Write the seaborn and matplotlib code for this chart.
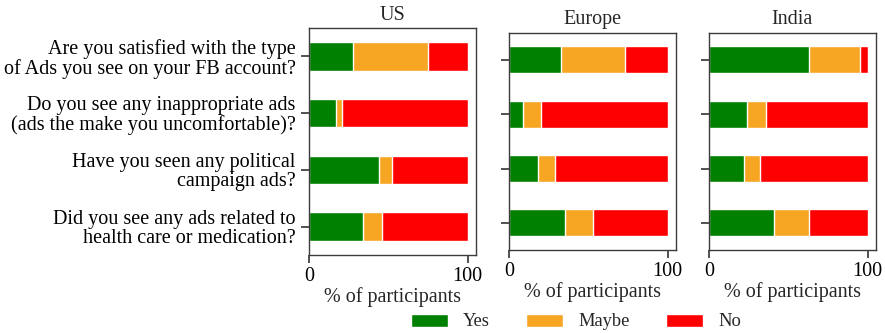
import matplotlib
matplotlib.use("Agg")
import matplotlib.pyplot as plt
import pandas as pd
import seaborn as sns

questions = [
    "Are you satisfied with the type\nof Ads you see on your FB account?",
    "Do you see any inappropriate ads\n(ads the make you uncomfortable)?",
    "Have you seen any political\ncampaign ads?",
    "Did you see any ads related to\nhealth care or medication?",
]
regions = ["US", "Europe", "India"]
answers = ["Yes", "Maybe", "No"]

# Percent of participants per answer, one list per region (question order as above)
yes_pct = {"US": [28, 17, 44, 34], "Europe": [33, 9, 18, 35], "India": [63, 24, 22, 41]}
maybe_pct = {"US": [47, 4, 8, 12], "Europe": [40, 11, 11, 18], "India": [32, 12, 10, 22]}
no_pct = {"US": [25, 79, 48, 54], "Europe": [27, 80, 71, 47], "India": [5, 64, 68, 37]}

colors = {"Yes": "#008000", "Maybe": "#f6a623", "No": "#ff0000"}

sns.set_theme(style="ticks")
plt.rcParams["font.family"] = ["Liberation Serif", "DejaVu Serif"]
plt.rcParams["axes.edgecolor"] = "#3c3c3c"
plt.rcParams["xtick.color"] = "#3c3c3c"
plt.rcParams["ytick.color"] = "#3c3c3c"
plt.rcParams["xtick.labelcolor"] = "black"
plt.rcParams["ytick.labelcolor"] = "black"

rows = []
for r in regions:
    for i, q in enumerate(questions):
        y, m, n = yes_pct[r][i], maybe_pct[r][i], no_pct[r][i]
        rows.append({"region": r, "question": q, "Yes": y, "Maybe": y + m, "No": y + m + n})
df = pd.DataFrame(rows)

W, H = 885, 333
fig = plt.figure(figsize=(W / 100, H / 100), dpi=100)

# axes boxes in pixels: left, top, right, bottom
boxes = {
    "US": (309, 28, 475.7, 255),
    "Europe": (509, 32.7, 675.7, 250),
    "India": (709, 32.7, 875.7, 250),
}

FS = 14.5
handles = {}
for r in regions:
    l, t, rr, b = boxes[r]
    ax = fig.add_axes([l / W, 1 - b / H, (rr - l) / W, (b - t) / H])
    sub = df[df["region"] == r]
    # stacked look: draw cumulative totals from the back to the front
    for a in reversed(answers):
        sns.barplot(data=sub, y="question", x=a, orient="h", width=0.5,
                    color=colors[a], saturation=1, ax=ax, label=a)
    for a, cont in zip(reversed(answers), ax.containers):
        handles[a] = cont.patches[0]
    ax.set_title(r, fontsize=FS, pad=6)
    ax.set_xlabel("% of participants", fontsize=FS, labelpad=1)
    ax.set_ylabel("")
    ax.set_xticks([0, 100])
    ax.tick_params(axis="x", labelsize=FS, pad=2.5)
    if r == "US":
        ax.tick_params(axis="y", labelsize=FS)
        for lab in ax.get_yticklabels():
            lab.set_linespacing(1.0)
    else:
        ax.set_yticklabels([])
    for s in ax.spines.values():
        s.set_visible(True)
        s.set_linewidth(1.0)
    leg = ax.get_legend()
    if leg is not None:
        leg.remove()

fig.legend([handles[a] for a in answers], answers, loc="center",
           bbox_to_anchor=(576 / W, 1 - 322 / H), ncol=3, frameon=False,
           fontsize=13.3, handlelength=2.0, columnspacing=2.0)

fig.savefig("out.png", dpi=100)
